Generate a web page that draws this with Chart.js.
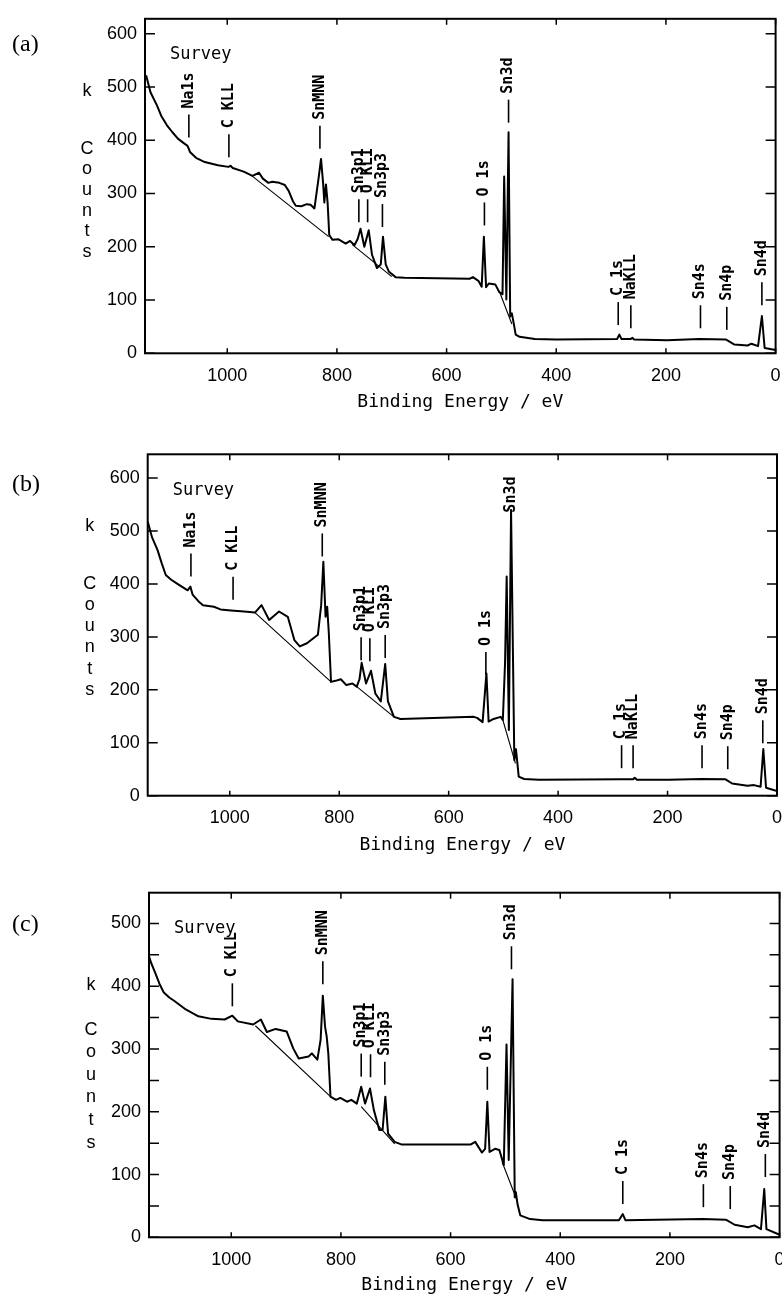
<!DOCTYPE html>
<html>
<head>
<meta charset="utf-8">
<script src="https://cdn.jsdelivr.net/npm/chart.js@4.4.0/dist/chart.umd.min.js"></script>
<style>
  body { margin: 0; background: #fff; }
  canvas { position: absolute; left: 0; }
</style>
</head>
<body>
<canvas id="chartA" width="782" height="420" style="top:0px"></canvas>
<canvas id="chartB" width="782" height="440" style="top:420px"></canvas>
<canvas id="chartC" width="782" height="440" style="top:860px"></canvas>
<script>
// ---- panel (a) ----
const energyA = [1148, 1140, 1128, 1120, 1110, 1100, 1090, 1080, 1073, 1071, 1068, 1057, 1041, 1017, 998, 994, 990, 970, 954, 942, 935, 925, 918, 905, 895, 888, 880, 875, 865, 855, 848, 841, 833, 829, 825, 823, 820, 817, 814, 808, 797, 784, 776, 768, 762, 757, 750, 742, 736, 727, 720, 716, 711, 705, 693, 677, 558, 552, 542, 536, 532, 528, 523, 511, 504, 498, 495, 491, 487, 484, 481, 477, 474, 467, 439, 400, 289, 285, 281, 264, 261, 258, 198, 139, 91, 75, 51, 44, 32, 25, 20, 0];
const countsA = [522, 490, 465, 445, 428, 415, 403, 395, 390, 386, 378, 367, 359, 353, 350, 352, 348, 341, 333, 339, 328, 320, 322, 320, 316, 305, 285, 277, 276, 280, 279, 272, 332, 365, 317, 283, 317, 283, 222, 213, 214, 206, 211, 203, 215, 234, 200, 231, 185, 160, 167, 219, 167, 153, 143, 142, 140, 143, 136, 125, 219, 124, 131, 129, 115, 111, 332, 101, 415, 69, 75, 53, 35, 31, 27, 26, 27, 35, 27, 27, 29, 26, 24.5, 27, 26, 16.5, 14.7, 18, 13.5, 70, 10, 6];
const bgEnergyA = [955, 815, null, 772, 700, null, 504, 481];
const bgCountsA = [333, 219, null, 204, 144, null, 117, 55];
const peakNamesA = ['Na1s', 'C KLL', 'SnMNN', 'Sn3p1', 'O KL1', 'Sn3p3', 'O 1s', 'Sn3d', 'C 1s', 'NaKLL', 'Sn4s', 'Sn4p', 'Sn4d'];
const peakEnergyA = [1070, 997, 831, 760, 744, 717, 531, 487, 287, 264, 137, 89, 25];
const peakBaseA = [405, 368, 384, 246, 246, 237, 240, 433, 53, 47, 47, 44, 90];

// ---- panel (b) ----
const energyB = [1150, 1142, 1132, 1124, 1117, 1107, 1097, 1077, 1072, 1068, 1057, 1049, 1029, 1017, 998, 974, 954, 942, 928, 910, 894, 882, 872, 859, 839, 833, 829, 825, 822, 819, 815, 807, 797, 787, 776, 768, 763, 759, 751, 742, 734, 724, 716, 711, 700, 688, 554, 548, 538, 531, 527, 518, 505, 501, 497, 494, 490, 486, 480, 477, 472, 462, 435, 284, 263, 260, 256, 198, 137, 94, 82, 54, 42, 30, 25, 20, 0];
const countsB = [518, 488, 464, 438, 417, 408, 401, 388, 395, 380, 367, 360, 357, 352, 350, 348, 346, 360, 332, 348, 338, 294, 282, 288, 304, 360, 442, 338, 357, 307, 215, 217, 220, 209, 212, 206, 220, 251, 212, 236, 193, 178, 249, 178, 149, 145, 149, 147, 139, 231, 140, 145, 149, 143, 250, 414, 124, 540, 67, 88, 36, 31.5, 30, 31, 31, 34, 30, 30, 31.5, 31, 23, 19, 20, 17, 88, 15, 9];
const bgEnergyB = [954, 815, null, 768, 700, null, 501, 478];
const bgCountsB = [346, 215, null, 206, 149, null, 143, 61];
const peakNamesB = ['Na1s', 'C KLL', 'SnMNN', 'Sn3p1', 'O KL1', 'Sn3p3', 'O 1s', 'Sn3d', 'C 1s', 'NaKLL', 'Sn4s', 'Sn4p', 'Sn4d'];
const peakEnergyB = [1071, 994, 831, 760, 744, 716, 532, 486, 284, 263, 137, 90, 26];
const peakBaseB = [414, 370, 452, 256, 254, 260, 228, 480, 52, 52, 52, 50, 99];

// ---- panel (c) ----
const energyC = [1153, 1146, 1139, 1131, 1123, 1113, 1103, 1083, 1060, 1036, 1012, 998, 988, 960, 946, 935, 919, 899, 887, 877, 859, 853, 843, 837, 833, 829, 826, 823, 819, 809, 801, 789, 781, 771, 763, 756, 747, 740, 730, 724, 719, 714, 702, 690, 563, 555, 543, 537, 533, 529, 519, 511, 503, 498, 494, 487, 483, 481, 478, 473, 455, 432, 293, 286, 281, 140, 98, 82, 58, 46, 34, 28, 24, 0];
const countsC = [456, 437, 422, 404, 390, 382, 376, 363, 352, 348, 347, 353, 344, 339, 347, 327, 332, 328, 301, 285, 288, 293, 283, 315, 385, 336, 320, 293, 224, 219, 222, 216, 219, 213, 240, 213, 237, 203, 171, 171, 224, 165, 152, 148, 148, 152, 135, 141, 216, 136, 141, 139, 115, 307, 123, 411, 64, 72, 53, 35, 29, 27, 27, 37, 27, 29, 28, 20, 16, 19, 13, 77, 13, 4];
const bgEnergyC = [956, 819, null, 763, 702, null, 506, 479];
const bgCountsC = [337, 224, null, 208, 149, null, 120, 59];
const peakNamesC = ['C KLL', 'SnMNN', 'Sn3p1', 'O KL1', 'Sn3p3', 'O 1s', 'Sn3d', 'C 1s', 'Sn4s', 'Sn4p', 'Sn4d'];
const peakEnergyC = [998, 833, 763, 746, 720, 533, 489, 286, 139, 90, 26];
const peakBaseC = [368, 403, 256, 255, 243, 235, 427, 53, 48, 45, 96];

const xTicks = [0, 200, 400, 600, 800, 1000];
const yAxisLetters = ['k', 'C', 'o', 'u', 'n', 't', 's'];

function toPoints(xs, ys) {
  let last = xs[0];
  return xs.map((x, i) => {
    if (x === null) return { x: last, y: null };
    last = x;
    return { x: x, y: ys[i] };
  });
}

function decor(p) {
  return {
    id: 'decor' + p.letter,
    afterDatasetsDraw(chart) {
      const ctx = chart.ctx;
      const a = chart.chartArea;
      const xs = chart.scales.x, ys = chart.scales.y;
      ctx.save();
      ctx.strokeStyle = '#000';
      ctx.fillStyle = '#000';
      // frame
      ctx.lineWidth = 2;
      ctx.strokeRect(a.left, a.top, a.right - a.left, a.bottom - a.top);
      // inward ticks
      ctx.lineWidth = 1.5;
      ctx.beginPath();
      for (let v = 0; v <= p.yMax; v += p.tickStep) {
        const y = ys.getPixelForValue(v);
        ctx.moveTo(a.left, y); ctx.lineTo(a.left + 10, y);
        ctx.moveTo(a.right, y); ctx.lineTo(a.right - 10, y);
      }
      xTicks.forEach(v => {
        const x = xs.getPixelForValue(v);
        ctx.moveTo(x, a.bottom); ctx.lineTo(x, a.bottom - 5);
        ctx.moveTo(x, a.top); ctx.lineTo(x, a.top + 6);
      });
      ctx.stroke();
      // peak markers
      ctx.font = 'bold 15px "DejaVu Sans Mono"';
      ctx.textAlign = 'left';
      ctx.textBaseline = 'middle';
      ctx.lineWidth = 1.6;
      p.names.forEach((name, i) => {
        const x = xs.getPixelForValue(p.energy[i]);
        const y = ys.getPixelForValue(p.base[i]);
        ctx.beginPath();
        ctx.moveTo(x, y); ctx.lineTo(x, y - 23);
        ctx.stroke();
        ctx.save();
        ctx.translate(x, y - 29);
        ctx.rotate(-Math.PI / 2);
        ctx.fillText(name, 0, 0);
        ctx.restore();
      });
      // Survey
      ctx.font = '17px "DejaVu Sans Mono"';
      ctx.fillText('Survey', a.left + 25, a.top + 36);
      // stacked axis title
      ctx.font = '18px "Liberation Sans"';
      ctx.textAlign = 'center';
      yAxisLetters.forEach((ch, i) => {
        const y = a.top + p.kTop + (i === 0 ? 0 : p.cGap + (i - 1) * p.letterStep);
        ctx.fillText(ch, a.left - 58, y);
      });
      // panel letter
      ctx.font = '24px "Liberation Serif"';
      ctx.textAlign = 'left';
      ctx.fillText('(' + p.letter + ')', 12, p.letterY);
      ctx.restore();
    }
  };
}

function makePanel(id, p) {
  const canvas = document.getElementById(id);
  const W = canvas.width, H = canvas.height;
  return new Chart(canvas.getContext('2d'), {
    type: 'line',
    data: {
      datasets: [
        { data: toPoints(p.ex, p.cy), borderColor: '#000', borderWidth: 2, pointRadius: 0, tension: 0, borderJoinStyle: 'round' },
        { data: toPoints(p.bx, p.by), borderColor: '#000', borderWidth: 1.1, pointRadius: 0, tension: 0, spanGaps: false }
      ]
    },
    options: {
      responsive: false,
      animation: false,
      events: [],
      layout: { padding: { left: 0, top: p.area.top, right: W - p.area.right, bottom: 0 } },
      plugins: { legend: { display: false }, tooltip: { enabled: false } },
      scales: {
        x: {
          type: 'linear', reverse: true, min: 0, max: 1150,
          afterBuildTicks: s => { s.ticks = xTicks.map(v => ({ value: v })); },
          ticks: { padding: 12, color: '#000', maxRotation: 0, autoSkip: false, font: { family: 'Liberation Sans', size: 18 }, callback: v => String(v) },
          grid: { display: false, drawTicks: false },
          border: { display: false },
          title: { display: true, text: 'Binding Energy / eV', color: '#000', font: { family: 'DejaVu Sans Mono', size: 18 }, padding: { top: 0, bottom: p.titleY } },
          afterFit: s => { s.height = H - p.area.bottom; }
        },
        y: {
          min: 0, max: p.yMax,
          ticks: { stepSize: 100, includeBounds: false, padding: 8, color: '#000', font: { family: 'Liberation Sans', size: 18 }, callback: v => String(v) },
          grid: { display: false, drawTicks: false },
          border: { display: false },
          afterFit: s => { s.width = p.area.left; }
        }
      }
    },
    plugins: [decor(p)]
  });
}

makePanel('chartA', {
  letter: 'a', letterY: 45, kTop: 72.5, cGap: 57.5, letterStep: 20.6, yMax: 628, tickStep: 100, titleY: 7.2,
  area: { left: 145, top: 12.5, right: 775.6, bottom: 353.3 },
  ex: energyA, cy: countsA, bx: bgEnergyA, by: bgCountsA,
  names: peakNamesA, energy: peakEnergyA, base: peakBaseA
});
makePanel('chartB', {
  letter: 'b', letterY: 65, kTop: 72, cGap: 57.5, letterStep: 21.2, yMax: 645, tickStep: 100, titleY: 4.2,
  area: { left: 147.7, top: 34.3, right: 777, bottom: 375.7 },
  ex: energyB, cy: countsB, bx: bgEnergyB, by: bgCountsB,
  names: peakNamesB, energy: peakEnergyB, base: peakBaseB
});
makePanel('chartC', {
  letter: 'c', letterY: 65, kTop: 92, cGap: 45, letterStep: 22.6, yMax: 549, tickStep: 50, titleY: 4.2,
  area: { left: 149, top: 32.7, right: 779.6, bottom: 377.3 },
  ex: energyC, cy: countsC, bx: bgEnergyC, by: bgCountsC,
  names: peakNamesC, energy: peakEnergyC, base: peakBaseC
});
</script>
</body>
</html>
